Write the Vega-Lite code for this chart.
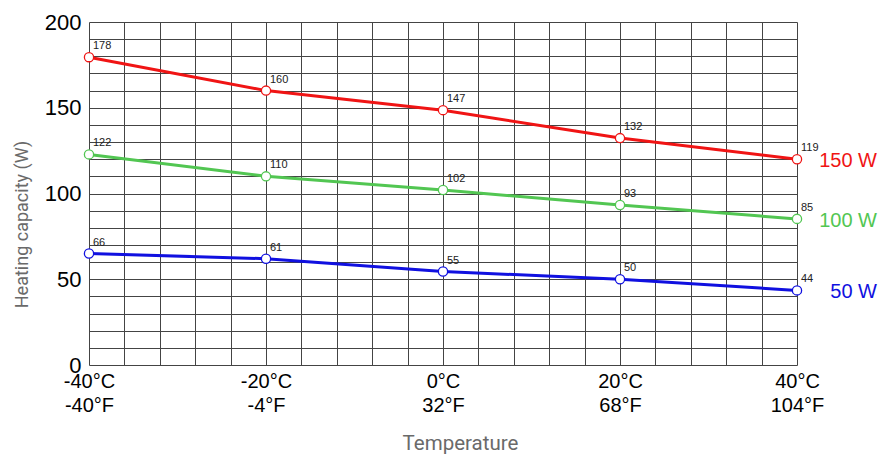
{
  "$schema": "https://vega.github.io/schema/vega-lite/v6.json",
  "width": 708,
  "height": 343,
  "autosize": {"type": "none"},
  "padding": {"left": 89, "top": 22, "right": 81, "bottom": 95},
  "background": "white",
  "config": {"view": {"stroke": null}},
  "data": {
    "values": [
      {"series": "150 W", "t": -40, "y": 179.5, "label": 178},
      {"series": "150 W", "t": -20, "y": 160, "label": 160},
      {"series": "150 W", "t": 0, "y": 148.6, "label": 147},
      {"series": "150 W", "t": 20, "y": 132.3, "label": 132},
      {"series": "150 W", "t": 40, "y": 120, "label": 119},
      {"series": "100 W", "t": -40, "y": 122.8, "label": 122},
      {"series": "100 W", "t": -20, "y": 110, "label": 110},
      {"series": "100 W", "t": 0, "y": 102, "label": 102},
      {"series": "100 W", "t": 20, "y": 93.3, "label": 93},
      {"series": "100 W", "t": 40, "y": 85.2, "label": 85},
      {"series": "50 W", "t": -40, "y": 65, "label": 66},
      {"series": "50 W", "t": -20, "y": 62, "label": 61},
      {"series": "50 W", "t": 0, "y": 54.5, "label": 55},
      {"series": "50 W", "t": 20, "y": 50, "label": 50},
      {"series": "50 W", "t": 40, "y": 43.5, "label": 44}
    ]
  },
  "encoding": {
    "x": {
      "field": "t",
      "type": "quantitative",
      "scale": {"domain": [-40, 40], "nice": false, "zero": false},
      "axis": {
        "values": [-40, -36, -32, -28, -24, -20, -16, -12, -8, -4, 0, 4, 8, 12, 16, 20, 24, 28, 32, 36, 40],
        "labelExpr": "datum.value % 20 == 0 ? [datum.value + '°C', (datum.value * 9 / 5 + 32) + '°F'] : ''",
        "labelFont": "Liberation Sans",
        "labelFontSize": 20,
        "labelColor": "#000000",
        "labelLineHeight": 24,
        "labelPadding": 6,
        "labelFlush": false,
        "labelOverlap": false,
        "ticks": false,
        "domain": false,
        "grid": true,
        "gridColor": "#444444",
        "gridWidth": 1,
        "gridOpacity": 1,
        "title": "Temperature",
        "titleFont": "Roboto",
        "titleFontSize": 20.5,
        "titleFontWeight": "normal",
        "titleColor": "#6a6a6a",
        "titleX": 371,
        "titleY": 68,
        "titleBaseline": "top"
      }
    },
    "y": {
      "field": "y",
      "type": "quantitative",
      "scale": {"domain": [0, 200], "nice": false},
      "axis": {
        "values": [0, 10, 20, 30, 40, 50, 60, 70, 80, 90, 100, 110, 120, 130, 140, 150, 160, 170, 180, 190, 200],
        "labelExpr": "datum.value % 50 == 0 ? datum.label : ''",
        "labelFont": "Liberation Sans",
        "labelFontSize": 22,
        "labelColor": "#000000",
        "labelPadding": 8,
        "labelOverlap": false,
        "labelFlush": false,
        "ticks": false,
        "domain": false,
        "grid": true,
        "gridColor": "#444444",
        "gridWidth": 1,
        "gridOpacity": 1,
        "title": "Heating capacity (W)",
        "titleFont": "Roboto",
        "titleFontSize": 18,
        "titleFontWeight": "normal",
        "titleColor": "#6a6a6a",
        "titleY": 202,
        "titleX": -58,
        "titleAngle": -90,
        "titleBaseline": "bottom"
      }
    }
  },
  "layer": [
    {
      "mark": {"type": "line", "strokeWidth": 3},
      "encoding": {
        "color": {
          "field": "series",
          "type": "nominal",
          "scale": {"domain": ["150 W", "100 W", "50 W"], "range": ["#f01414", "#52c652", "#1010e0"]},
          "legend": null
        }
      }
    },
    {
      "mark": {"type": "point", "shape": "circle", "size": 85, "fill": "white", "fillOpacity": 1, "filled": false, "strokeWidth": 1.3, "opacity": 1},
      "encoding": {
        "stroke": {
          "field": "series",
          "type": "nominal",
          "scale": {"domain": ["150 W", "100 W", "50 W"], "range": ["#f01414", "#52c652", "#1010e0"]},
          "legend": null
        }
      }
    },
    {
      "mark": {"type": "text", "align": "left", "baseline": "middle", "dx": 4, "dy": -11, "fontSize": 11, "font": "Liberation Sans", "color": "#222222"},
      "encoding": {"text": {"field": "label", "type": "quantitative"}}
    },
    {
      "transform": [{"filter": "datum.t == 40"}],
      "mark": {"type": "text", "align": "right", "baseline": "middle", "dx": 80, "dy": 2, "fontSize": 20, "font": "Liberation Sans"},
      "encoding": {
        "text": {"field": "series", "type": "nominal"},
        "color": {
          "field": "series",
          "type": "nominal",
          "scale": {"domain": ["150 W", "100 W", "50 W"], "range": ["#f01414", "#52c652", "#1010e0"]},
          "legend": null
        }
      }
    }
  ]
}
